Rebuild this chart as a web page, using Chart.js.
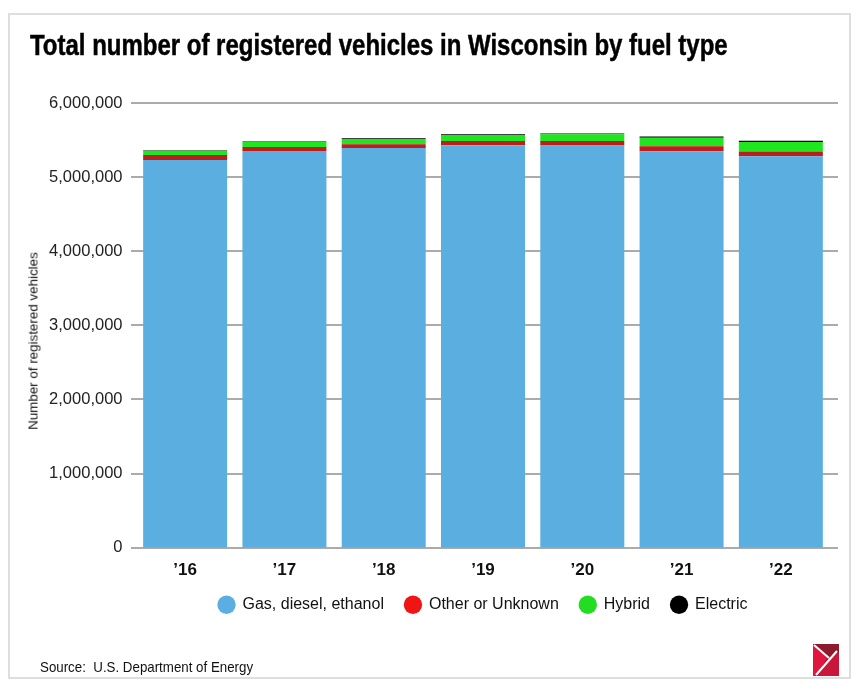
<!DOCTYPE html>
<html>
<head>
<meta charset="utf-8">
<script src="https://cdn.jsdelivr.net/npm/chart.js"></script>
<style>
html, body { margin: 0; padding: 0; background: #fff; }
#wrap { position: relative; width: 862px; height: 694px; overflow: hidden; }
#frame { position: absolute; left: 8px; top: 13px; width: 843px; height: 666px; border: 2px solid #dedede; box-sizing: border-box; }
#chart { position: absolute; left: 0; top: 0; }
.txt { position: absolute; white-space: nowrap; color: #000; transform-origin: 0 0; }
#title { left: 30px; top: 31px; font: bold 29px/29px "Liberation Sans", Arial, sans-serif; -webkit-text-stroke: 0.5px #000; }
#source { left: 40px; top: 660px; font: 14.5px/14.5px "Liberation Sans", Arial, sans-serif; color: #111; }
#ylab { left: 33px; top: 341px; font: 13px/13px "Liberation Sans", Arial, sans-serif; color: #111; transform-origin: 50% 50%; }
#logo { position: absolute; left: 813px; top: 644px; }
</style>
</head>
<body>
<div id="wrap">
  <div id="frame"></div>
  <canvas id="chart" width="862" height="694"></canvas>
  <div class="txt" id="title">Total number of registered vehicles in Wisconsin by fuel type</div>
  <div class="txt" id="ylab">Number of registered vehicles</div>
  <div class="txt" id="source">Source:&nbsp; U.S. Department of Energy</div>
  <svg id="logo" width="26" height="32" viewBox="0 0 26 32">
    <rect x="0" y="0" width="26" height="32" fill="#8e1a2e"/>
    <polygon points="0,0 15,13 3,32 0,32" fill="#e0163e"/>
    <polygon points="0,32 3,32 22,9 26,9 26,32" fill="#c8173a"/>
    <line x1="1" y1="1" x2="16" y2="14" stroke="#fff" stroke-width="2"/>
    <line x1="3" y1="31" x2="24" y2="7" stroke="#fff" stroke-width="2"/>
  </svg>
</div>
<script>
// valori (numar de vehicule)
var years = ['\u201916', '\u201917', '\u201918', '\u201919', '\u201920', '\u201921', '\u201922'];
var gasDieselEthanol = [5231000, 5353000, 5393000, 5429000, 5425000, 5348000, 5280000];
var otherUnknown = [67000, 54000, 50000, 58000, 62000, 67000, 67000];
var hybrid = [58000, 67000, 72000, 81000, 90000, 117000, 126000];
var electric = [7000, 8000, 9000, 11000, 12000, 15000, 18000];
var yTicks = [0, 1000000, 2000000, 3000000, 4000000, 5000000, 6000000];

// potriveste latimea textelor HTML (fonturile condensate lipsesc)
function fitWidth(id, target, extra) {
    var el = document.getElementById(id);
    var s = target / el.offsetWidth;
    el.style.transform = (extra || '') + 'scaleX(' + s + ')';
}
fitWidth('title', 698);
fitWidth('source', 213);
fitWidth('ylab', 178, 'translate(-50%,-50%) rotate(-90deg) ');

var legendColors = ['#5baee0', '#f01515', '#22dd22', '#000000'];

// linii de grila prelungite putin in stanga si dreapta
var gridPlugin = {
    id: 'gridExt',
    beforeDatasetsDraw: function(chart) {
        var ctx = chart.ctx, area = chart.chartArea, y = chart.scales.y;
        ctx.save();
        ctx.strokeStyle = '#ababab';
        ctx.lineWidth = 2;
        y.ticks.forEach(function(t) {
            var py = Math.round(y.getPixelForValue(t.value));
            ctx.beginPath();
            ctx.moveTo(area.left - 4.5, py);
            ctx.lineTo(area.right + 7.5, py);
            ctx.stroke();
        });
        ctx.restore();
    }
};

var ctx = document.getElementById('chart').getContext('2d');
var chart = new Chart(ctx, {
    type: 'bar',
    data: {
        labels: years,
        datasets: [
            { label: 'Gas, diesel, ethanol', data: gasDieselEthanol, backgroundColor: '#5baee0' },
            { label: 'Other or Unknown', data: otherUnknown, backgroundColor: '#bd1d1d' },
            { label: 'Hybrid', data: hybrid, backgroundColor: '#1fe61f' },
            { label: 'Electric', data: electric, backgroundColor: '#000000' }
        ]
    },
    options: {
        responsive: false,
        animation: false,
        layout: { padding: { top: 103, right: 31.5, bottom: 71.3, left: 0 } },
        datasets: { bar: { categoryPercentage: 1, barPercentage: 0.846, borderWidth: 0 } },
        plugins: {
            tooltip: { enabled: false },
            title: { display: false },
            legend: {
                position: 'bottom',
                fullSize: false,
                labels: {
                    usePointStyle: true,
                    pointStyle: 'circle',
                    boxHeight: 13,
                    padding: 21,
                    color: '#111',
                    font: { family: '"Liberation Sans", Arial, sans-serif', size: 16 },
                    generateLabels: function(chart) {
                        return chart.data.datasets.map(function(ds, i) {
                            return {
                                text: ds.label, fillStyle: legendColors[i], strokeStyle: legendColors[i],
                                lineWidth: 0, pointStyle: 'circle', datasetIndex: i, hidden: false, fontColor: '#111'
                            };
                        });
                    }
                }
            }
        },
        scales: {
            x: {
                stacked: true,
                grid: { display: false, drawTicks: false },
                border: { display: false },
                ticks: { color: '#111', padding: 12, font: { family: '"Liberation Sans", Arial, sans-serif', size: 17, weight: 'bold' } },
                afterFit: function(scale) { scale.height = 28; }
            },
            y: {
                stacked: true,
                min: 0,
                max: 6000000,
                afterBuildTicks: function(scale) {
                    scale.ticks = yTicks.map(function(v) { return { value: v }; });
                },
                grid: { display: false, drawTicks: false },
                border: { display: false },
                ticks: {
                    color: '#222',
                    padding: 13,
                    font: { family: '"Liberation Sans", Arial, sans-serif', size: 16.5 },
                    callback: function(v) { return Number(v).toLocaleString('en-US'); }
                },
                afterFit: function(scale) { scale.width = 135.5; }
            }
        }
    },
    plugins: [gridPlugin]
});
</script>
</body>
</html>
